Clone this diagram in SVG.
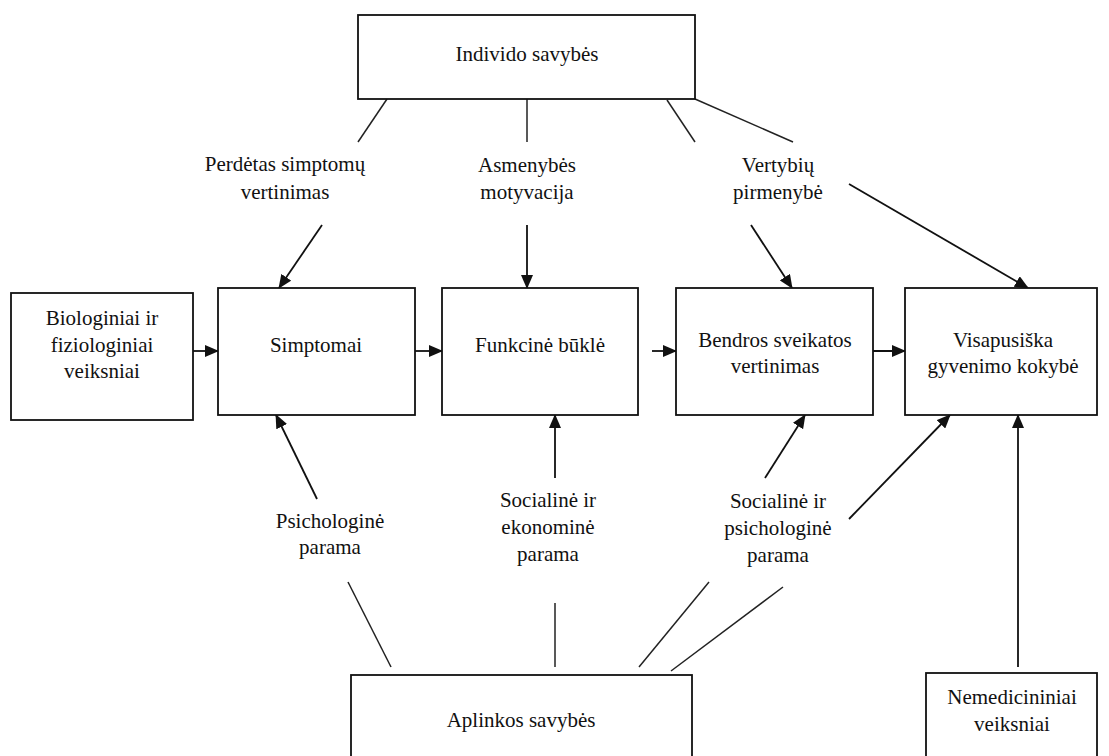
<svg xmlns="http://www.w3.org/2000/svg" width="1109" height="756" viewBox="0 0 1109 756" font-family="Liberation Serif, Times New Roman, DejaVu Serif, serif">
<style>
.box{fill:#fff;stroke:#111;stroke-width:1.8}
.t{font-size:21px;fill:#111;text-anchor:middle}
.ln{stroke:#222;stroke-width:1.5;fill:none}
.ar{stroke:#111;stroke-width:1.8;fill:none;marker-end:url(#ah)}
</style>
<defs>
<marker id="ah" markerUnits="userSpaceOnUse" markerWidth="14" markerHeight="12" viewBox="0 0 14 12" refX="13" refY="6" orient="auto">
<path d="M0,0 L14,6 L0,12 Z" fill="#111"/>
</marker>
</defs>
<rect width="1109" height="756" fill="#fff"/>
<g id="connectors">
<line class="ln" x1="387" y1="99" x2="358" y2="142"/>
<line class="ln" x1="527" y1="99" x2="527" y2="142"/>
<line class="ln" x1="667" y1="100" x2="695" y2="142"/>
<line class="ln" x1="695" y1="99" x2="793" y2="142"/>
<line class="ar" x1="322" y1="225" x2="279" y2="288"/>
<line class="ar" x1="527" y1="225" x2="527" y2="288"/>
<line class="ar" x1="751" y1="225" x2="792" y2="288"/>
<line class="ar" x1="849" y1="184" x2="1028" y2="288"/>
<line class="ar" x1="193" y1="351" x2="218" y2="351"/>
<line class="ar" x1="415" y1="351" x2="442" y2="351"/>
<line class="ar" x1="652" y1="351" x2="676" y2="351"/>
<line class="ar" x1="869" y1="351" x2="905" y2="351"/>
<line class="ar" x1="317" y1="499" x2="276" y2="415"/>
<line class="ar" x1="555" y1="478" x2="555" y2="415"/>
<line class="ar" x1="765" y1="478" x2="805" y2="415"/>
<line class="ar" x1="849" y1="519" x2="950" y2="415"/>
<line class="ar" x1="1018" y1="667" x2="1018" y2="415"/>
<line class="ln" x1="348" y1="582" x2="391" y2="667"/>
<line class="ln" x1="555" y1="603" x2="555" y2="667"/>
<line class="ln" x1="709" y1="582" x2="639" y2="667"/>
<line class="ln" x1="783" y1="587" x2="671" y2="671"/>
</g>
<g id="lbl-perdetas">
<text class="t" x="285" y="171">Perdėtas simptomų</text>
<text class="t" x="285" y="199">vertinimas</text>
</g>
<g id="lbl-asmenybes">
<text class="t" x="527" y="172">Asmenybės</text>
<text class="t" x="527" y="199">motyvacija</text>
</g>
<g id="lbl-vertybiu">
<text class="t" x="778" y="172">Vertybių</text>
<text class="t" x="778" y="199">pirmenybė</text>
</g>
<g id="lbl-psich">
<text class="t" x="330" y="528">Psichologinė</text>
<text class="t" x="330" y="554">parama</text>
</g>
<g id="lbl-soc-ek">
<text class="t" x="548" y="507">Socialinė ir</text>
<text class="t" x="548" y="534">ekonominė</text>
<text class="t" x="548" y="561">parama</text>
</g>
<g id="lbl-soc-ps">
<text class="t" x="778" y="508">Socialinė ir</text>
<text class="t" x="778" y="535">psichologinė</text>
<text class="t" x="778" y="562">parama</text>
</g>
<g id="individo">
<rect class="box" x="358" y="15" width="337" height="84"/>
<text class="t" x="527" y="61">Individo savybės</text>
</g>
<g id="biologiniai">
<rect class="box" x="11" y="293" width="182" height="127"/>
<text class="t" x="102" y="325">Biologiniai ir</text>
<text class="t" x="102" y="352">fiziologiniai</text>
<text class="t" x="102" y="378">veiksniai</text>
</g>
<g id="simptomai">
<rect class="box" x="218" y="288" width="197" height="127"/>
<text class="t" x="316" y="352">Simptomai</text>
</g>
<g id="funkcine">
<rect class="box" x="442" y="288" width="196" height="127"/>
<text class="t" x="540" y="352">Funkcinė būklė</text>
</g>
<g id="bendros">
<rect class="box" x="676" y="288" width="197" height="127"/>
<text class="t" x="775" y="347">Bendros sveikatos</text>
<text class="t" x="775" y="373">vertinimas</text>
</g>
<g id="visapusiska">
<rect class="box" x="905" y="288" width="192" height="127"/>
<text class="t" x="1003" y="347">Visapusiška</text>
<text class="t" x="1003" y="373">gyvenimo kokybė</text>
</g>
<g id="aplinkos">
<rect class="box" x="351" y="675" width="341" height="90"/>
<text class="t" x="521" y="727">Aplinkos savybės</text>
</g>
<g id="nemedicininiai">
<rect class="box" x="926" y="673" width="171" height="92"/>
<text class="t" x="1012" y="704">Nemedicininiai</text>
<text class="t" x="1012" y="731">veiksniai</text>
</g>
</svg>
